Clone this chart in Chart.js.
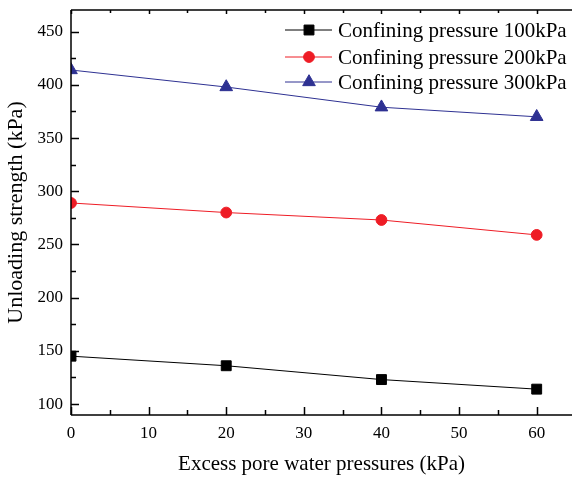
<!DOCTYPE html>
<html>
<head>
<meta charset="utf-8">
<script src="https://cdn.jsdelivr.net/npm/chart.js@4/dist/chart.umd.min.js"></script>
<style>
html,body{margin:0;padding:0;background:#fff;}
#wrap{width:572px;height:480px;}
</style>
</head>
<body>
<div id="wrap"><canvas id="c" width="572" height="480"></canvas></div>
<script>
const xValues = [0, 20, 40, 60];
const p100 = [145, 136, 123, 114];
const p200 = [289, 280, 273, 259];
const p300 = [414, 398, 379, 370];
const seriesLabels = ['Confining pressure 100kPa', 'Confining pressure 200kPa', 'Confining pressure 300kPa'];
const xTicks = [0, 10, 20, 30, 40, 50, 60];
const xMinor = [5, 15, 25, 35, 45, 55];
const yTicks = [100, 150, 200, 250, 300, 350, 400, 450];
const yMinor = [125, 175, 225, 275, 325, 375, 425];

const FONT = '"Liberation Serif", "Times New Roman", serif';

function pts(arr){ return xValues.map((x,i)=>({x:x,y:arr[i]})); }

const colors = ['#000000', '#EE1C25', '#2E3192'];
const styles = ['rect', 'circle', 'triangle'];
const radii = [7, 5.4, 7.3];

const ticksPlugin = {
  id: 'ticksPlugin',
  afterDraw(chart){
    const ctx = chart.ctx;
    const a = chart.chartArea;
    const xs = chart.scales.x, ys = chart.scales.y;
    ctx.save();
    ctx.strokeStyle = '#000';
    ctx.lineWidth = 1.5;
    ctx.beginPath();
    ctx.moveTo(a.left, a.top); ctx.lineTo(a.left, a.bottom);
    ctx.moveTo(a.left, a.bottom); ctx.lineTo(a.right, a.bottom);
    ctx.moveTo(a.left, a.top); ctx.lineTo(a.right, a.top);
    ctx.stroke();
    ctx.beginPath();
    xTicks.forEach(v=>{
      const px = Math.round(xs.getPixelForValue(v))+0.5;
      ctx.moveTo(px, a.bottom); ctx.lineTo(px, a.bottom-8);
      ctx.moveTo(px, a.top); ctx.lineTo(px, a.top+4);
    });
    xMinor.forEach(v=>{
      const px = Math.round(xs.getPixelForValue(v))+0.5;
      ctx.moveTo(px, a.bottom); ctx.lineTo(px, a.bottom-5);
      ctx.moveTo(px, a.top); ctx.lineTo(px, a.top+3);
    });
    yTicks.forEach(v=>{
      const py = Math.round(ys.getPixelForValue(v))+0.5;
      ctx.moveTo(a.left, py); ctx.lineTo(a.left+8, py);
    });
    yMinor.forEach(v=>{
      const py = Math.round(ys.getPixelForValue(v))+0.5;
      ctx.moveTo(a.left, py); ctx.lineTo(a.left+5, py);
    });
    ctx.stroke();

    // legend
    const lx0 = 285, lx1 = 332, lmx = 309, tx = 338;
    const rows = [30, 57, 82];
    chart.data.datasets.forEach((ds, i)=>{
      const y = rows[i];
      ctx.strokeStyle = ds.borderColor;
      ctx.lineWidth = 1;
      ctx.beginPath(); ctx.moveTo(lx0, y); ctx.lineTo(lx1, y); ctx.stroke();
      ctx.fillStyle = ds.pointBackgroundColor;
      ctx.strokeStyle = ds.pointBorderColor;
      Chart.helpers.drawPoint(ctx, {pointStyle: ds.pointStyle, radius: ds.pointRadius, borderWidth: 1, rotation: 0}, lmx, y);
      ctx.fillStyle = '#000';
      ctx.font = '21px ' + FONT;
      ctx.textBaseline = 'middle';
      ctx.textAlign = 'left';
      ctx.fillText(ds.label, tx, y+1);
    });
    ctx.restore();
  }
};

const datasets = [p100, p200, p300].map((arr, i)=>({
  label: seriesLabels[i],
  data: pts(arr),
  borderColor: colors[i],
  backgroundColor: colors[i],
  pointBackgroundColor: colors[i],
  pointBorderColor: colors[i],
  pointStyle: styles[i],
  pointRadius: radii[i],
  pointHoverRadius: radii[i],
  borderWidth: 1,
  pointBorderWidth: 1,
  clip: 0,
  tension: 0
}));

new Chart(document.getElementById('c'), {
  type: 'line',
  data: { datasets },
  options: {
    responsive: false,
    animation: false,
    devicePixelRatio: 1,
    layout: { autoPadding: false, padding: { top: 10, right: 0, left: 0, bottom: 0 } },
    plugins: { legend: { display: false }, tooltip: { enabled: false } },
    scales: {
      x: {
        type: 'linear',
        min: 0, max: 64.55,
        afterBuildTicks(s){ s.ticks = xTicks.map(v=>({value:v})); },
        afterFit(s){ s.height = 65; s.paddingLeft = 0; s.paddingRight = 0; },
        grid: { display: false, drawTicks: false },
        border: { display: false },
        ticks: { font: { family: FONT, size: 17 }, color: '#000', padding: 8, maxRotation: 0, autoSkip: false },
        title: { display: true, text: 'Excess pore water pressures (kPa)', font: { family: FONT, size: 21 }, color: '#000', padding: { top: 0, bottom: 3 } }
      },
      y: {
        type: 'linear',
        min: 89.7, max: 470.4,
        afterBuildTicks(s){ s.ticks = yTicks.map(v=>({value:v})); },
        afterFit(s){ s.width = 71; s.paddingTop = 0; s.paddingBottom = 0; },
        grid: { display: false, drawTicks: false },
        border: { display: false },
        ticks: { font: { family: FONT, size: 17 }, color: '#000', padding: 8, autoSkip: false },
        title: { display: true, text: 'Unloading strength (kPa)', font: { family: FONT, size: 22 }, color: '#000', padding: { top: 3, bottom: 0 } }
      }
    }
  },
  plugins: [ticksPlugin]
});
</script>
</body>
</html>
